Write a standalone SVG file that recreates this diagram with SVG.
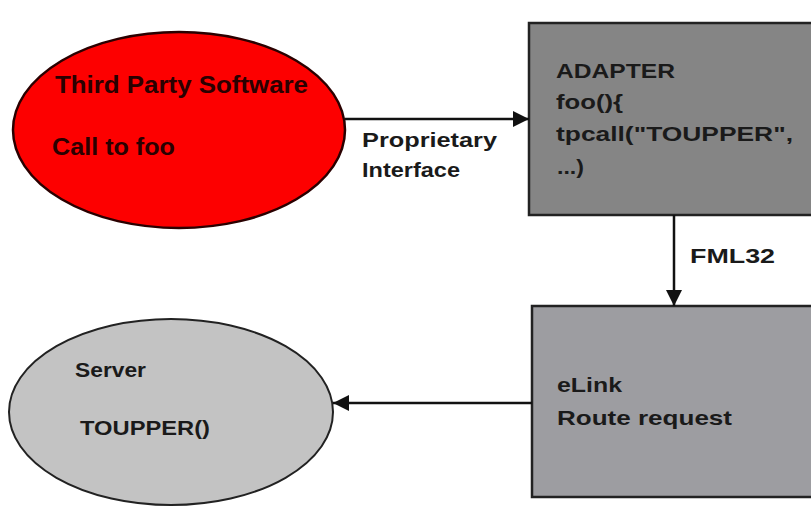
<svg xmlns="http://www.w3.org/2000/svg" width="811" height="508" viewBox="0 0 811 508">
<style>
text{font-family:"Liberation Sans",Arial,sans-serif;font-weight:bold;fill:#1a1a1a}
.red text{fill:#2a0000}
.conn line{stroke:#111;stroke-width:2.5}
</style>
<defs>
<marker id="ah" viewBox="0 0 10 10" refX="10" refY="5" markerWidth="18" markerHeight="16" markerUnits="userSpaceOnUse" orient="auto">
<path d="M0,0 L10,5 L0,10 z" fill="#111"/>
</marker>
</defs>
<rect width="811" height="508" fill="#fff"/>
<g id="third-party" class="red">
<ellipse cx="179" cy="130" rx="166" ry="98" fill="#fd0000" stroke="#2a0000" stroke-width="2.5"/>
<text x="55" y="93" font-size="23" textLength="253" lengthAdjust="spacingAndGlyphs">Third Party Software</text>
<text x="52" y="155" font-size="23" textLength="123" lengthAdjust="spacingAndGlyphs">Call to foo</text>
</g>
<g id="adapter">
<rect x="529" y="23" width="300" height="192" fill="#858585" stroke="#222" stroke-width="2.5"/>
<text x="556" y="78" font-size="21" textLength="119" lengthAdjust="spacingAndGlyphs">ADAPTER</text>
<text x="556" y="109" font-size="21" textLength="67" lengthAdjust="spacingAndGlyphs">foo(){</text>
<text x="556" y="141" font-size="21" textLength="237" lengthAdjust="spacingAndGlyphs">tpcall(&quot;TOUPPER&quot;,</text>
<text x="557" y="174" font-size="21" textLength="27" lengthAdjust="spacingAndGlyphs">...)</text>
</g>
<g id="elink">
<rect x="532" y="306" width="300" height="191" fill="#9d9da1" stroke="#222" stroke-width="2.5"/>
<text x="557" y="392" font-size="21" textLength="65" lengthAdjust="spacingAndGlyphs">eLink</text>
<text x="557" y="425" font-size="21" textLength="175" lengthAdjust="spacingAndGlyphs">Route request</text>
</g>
<g id="server">
<ellipse cx="171" cy="412" rx="162" ry="93" fill="#c3c3c3" stroke="#222" stroke-width="2"/>
<text x="75" y="377" font-size="20" textLength="71" lengthAdjust="spacingAndGlyphs">Server</text>
<text x="80" y="435" font-size="20" textLength="130" lengthAdjust="spacingAndGlyphs">TOUPPER()</text>
</g>
<g id="connectors" class="conn">
<line x1="345" y1="119" x2="529" y2="119" marker-end="url(#ah)"/>
<line x1="674" y1="215" x2="674" y2="306" marker-end="url(#ah)"/>
<line x1="532" y1="403" x2="333" y2="403" marker-end="url(#ah)"/>
</g>
<g id="labels">
<text x="362" y="147" font-size="21" textLength="135" lengthAdjust="spacingAndGlyphs">Proprietary</text>
<text x="362" y="177" font-size="21" textLength="98" lengthAdjust="spacingAndGlyphs">Interface</text>
<text x="690" y="263" font-size="21" textLength="85" lengthAdjust="spacingAndGlyphs">FML32</text>
</g>
</svg>
